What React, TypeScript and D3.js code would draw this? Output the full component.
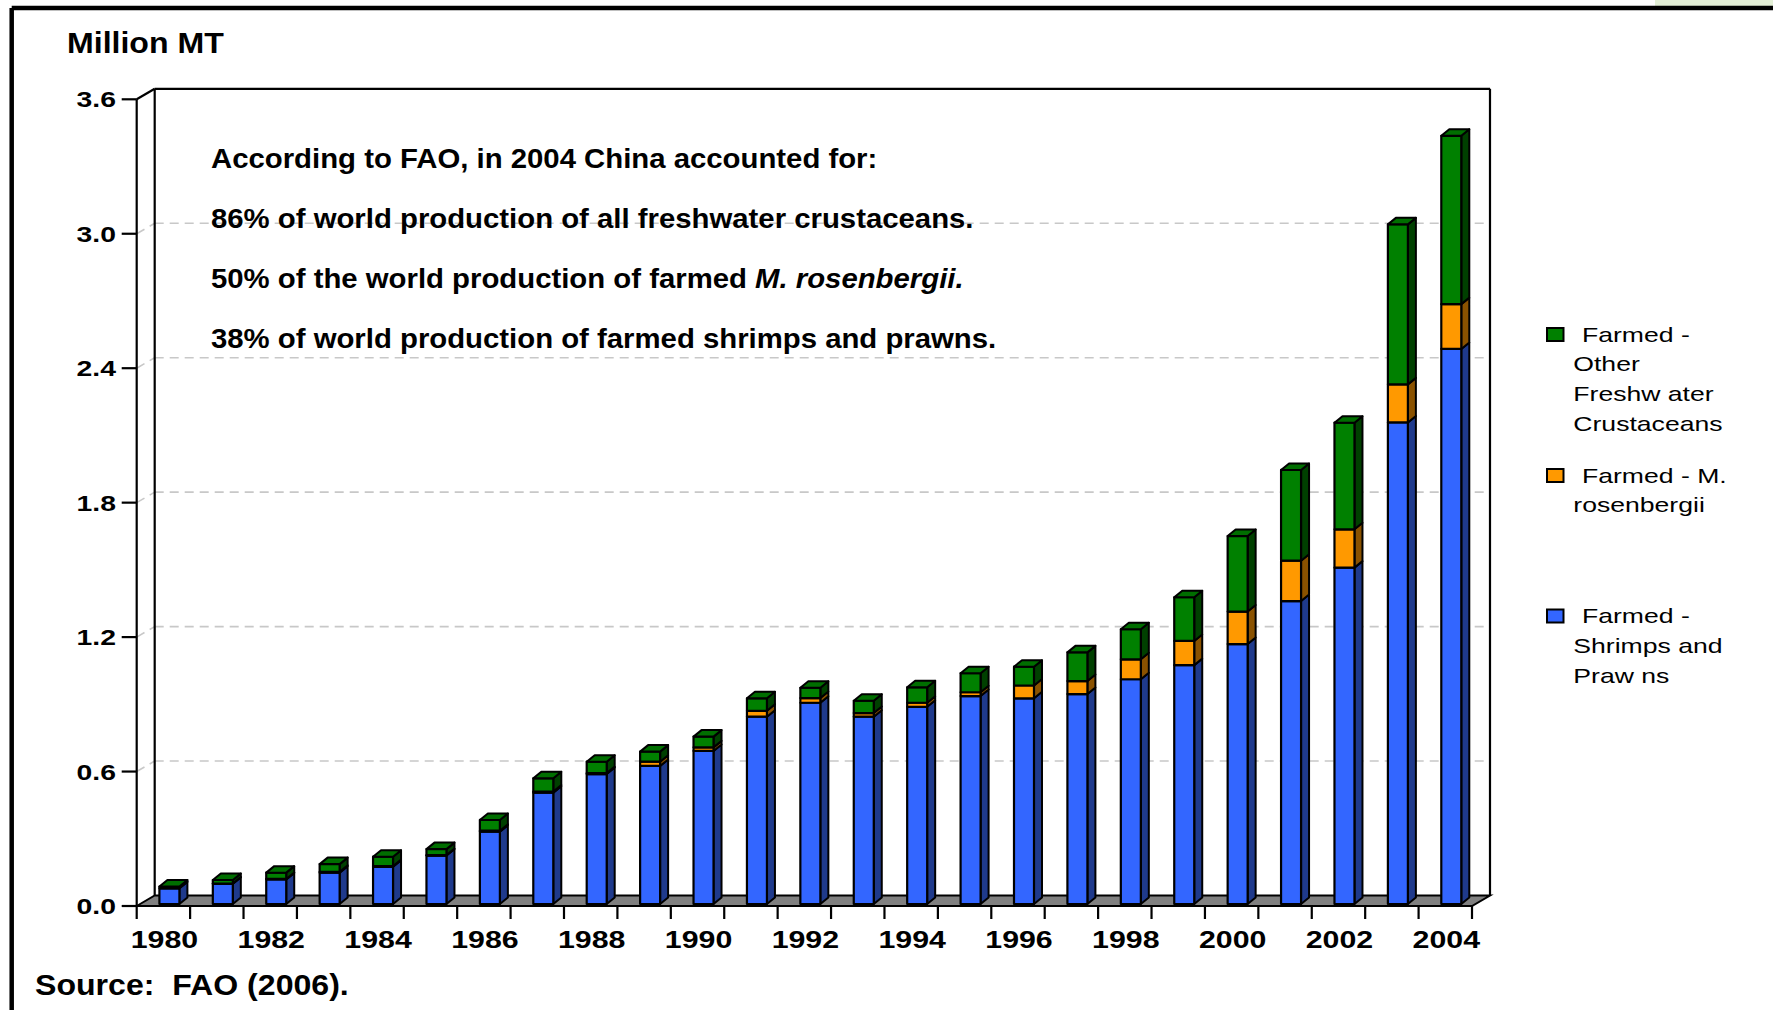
import React from 'react';
import * as d3 from 'd3';

const years = ['1980', '1981', '1982', '1983', '1984', '1985', '1986', '1987', '1988', '1989', '1990', '1991', '1992', '1993', '1994', '1995', '1996', '1997', '1998', '1999', '2000', '2001', '2002', '2003', '2004'];
const shrimpsPrawns = [0.070, 0.090, 0.110, 0.140, 0.166, 0.216, 0.323, 0.497, 0.580, 0.616, 0.683, 0.836, 0.898, 0.836, 0.880, 0.928, 0.918, 0.937, 1.003, 1.066, 1.160, 1.352, 1.501, 2.149, 2.477];
const rosenbergii = [0.000, 0.001, 0.002, 0.004, 0.003, 0.002, 0.004, 0.005, 0.004, 0.019, 0.016, 0.026, 0.021, 0.016, 0.018, 0.017, 0.057, 0.058, 0.089, 0.108, 0.145, 0.180, 0.171, 0.170, 0.200];
const otherCrustaceans = [0.008, 0.016, 0.028, 0.034, 0.042, 0.027, 0.048, 0.059, 0.051, 0.045, 0.048, 0.056, 0.046, 0.055, 0.069, 0.085, 0.084, 0.128, 0.134, 0.195, 0.337, 0.405, 0.476, 0.714, 0.751];
const yTickValues = [0, 0.6, 1.2, 1.8, 2.4, 3.0, 3.6];
const gridValues = [0.6, 1.2, 1.8, 2.4, 3.0];
const xLabelYears = ['1980', '1982', '1984', '1986', '1988', '1990', '1992', '1994', '1996', '1998', '2000', '2002', '2004'];

const seriesKeys = ['shrimps', 'rosen', 'other'];
const seriesColors: Record<string, { front: string; side: string; top: string }> = {
  shrimps: { front: '#3366FF', side: '#1F3A8C', top: '#2B55D6' },
  rosen: { front: '#FF9900', side: '#8A5200', top: '#D98200' },
  other: { front: '#008000', side: '#004000', top: '#006E00' },
};

const legendItems = [
  { key: 'other', lines: ['Farmed -', 'Other', 'Freshw ater', 'Crustaceans'], top: 328, base: 341.7 },
  { key: 'rosen', lines: ['Farmed - M.', 'rosenbergii'], top: 469, base: 482.7 },
  { key: 'shrimps', lines: ['Farmed -', 'Shrimps and', 'Praw ns'], top: 609.5, base: 623.3 },
];

const FONT = '"Liberation Sans", Arial, Helvetica, sans-serif';

export default function App() {
  const W = 1773;
  const H = 1010;
  const xLeft = 136.7;
  const xRight = 1472;
  const WDX = 18;
  const WDY = -10.5;
  const BX = 6;
  const BY = -2;
  const BW = 20;
  const DX = 8;
  const DY = -6.5;

  const x = d3.scaleBand<string>().domain(years).range([xLeft, xRight]).paddingInner(0).paddingOuter(0);
  const y = d3.scaleLinear().domain([0, 3.6]).range([906, 99.3]);

  const data = years.map((yr, i) => ({
    year: yr,
    shrimps: shrimpsPrawns[i],
    rosen: rosenbergii[i],
    other: otherCrustaceans[i],
  }));
  const stacked = d3.stack<any>().keys(seriesKeys)(data);

  const bw = x.bandwidth();
  const y0 = y(0);
  const yTop = y(3.6);

  const bars: React.ReactNode[] = [];
  years.forEach((yr, i) => {
    const bx = (x(yr) as number) + (bw - BW) / 2 + BX;
    stacked.forEach((layer, k) => {
      const d = layer[i];
      const key = layer.key;
      const c = seriesColors[key];
      const yb = y(d[0]) + BY;
      const yt = y(d[1]) + BY;
      const side = [
        [bx + BW, yb],
        [bx + BW + DX, yb + DY],
        [bx + BW + DX, yt + DY],
        [bx + BW, yt],
      ];
      bars.push(
        <g key={`${yr}-${key}`}>
          <polygon points={side.map((p) => p.join(',')).join(' ')} fill={c.side} stroke="#000" strokeWidth={2} strokeLinejoin="round" />
          <rect x={bx} y={yt} width={BW} height={Math.max(0, yb - yt)} fill={c.front} stroke="#000" strokeWidth={2.2} strokeLinejoin="round" />
        </g>
      );
      if (k === stacked.length - 1) {
        const top = [
          [bx, yt],
          [bx + DX, yt + DY],
          [bx + BW + DX, yt + DY],
          [bx + BW, yt],
        ];
        bars.push(
          <polygon key={`${yr}-top`} points={top.map((p) => p.join(',')).join(' ')} fill={c.top} stroke="#000" strokeWidth={2} strokeLinejoin="round" />
        );
      }
    });
  });

  const tickXs = years.map((yr) => x(yr) as number).concat([xRight]);

  return (
    <svg width={W} height={H} viewBox={`0 0 ${W} ${H}`} style={{ position: 'absolute', left: 0, top: 0, background: '#fff' }} fontFamily={FONT}>
      <rect x={0} y={0} width={W} height={H} fill="#fff" />
      <rect x={1655} y={0} width={118} height={6} fill="#E3EFD6" />
      {/* outer frame */}
      <line x1={11.7} y1={8} x2={W} y2={8} stroke="#000" strokeWidth={4.5} />
      <line x1={11.7} y1={8} x2={11.7} y2={H} stroke="#000" strokeWidth={4.5} />

      {/* title */}
      <text transform="translate(67,53) scale(1.07,1)" fontSize={30} fontWeight="bold" fill="#000">Million MT</text>

      {/* floor */}
      <polygon
        points={`${xLeft},${y0} ${xLeft + WDX},${y0 + WDY} ${xRight + WDX},${y0 + WDY} ${xRight},${y0}`}
        fill="#808080"
        stroke="#000"
        strokeWidth={2}
      />

      {/* gridlines */}
      {gridValues.map((v) => (
        <g key={`g${v}`} stroke="#C8C8C8" strokeWidth={1.6} strokeDasharray="9,6" fill="none">
          <line x1={xLeft} y1={y(v)} x2={xLeft + WDX} y2={y(v) + WDY} />
          <line x1={xLeft + WDX} y1={y(v) + WDY} x2={xRight + WDX} y2={y(v) + WDY} />
        </g>
      ))}

      {/* walls */}
      <g stroke="#000" strokeWidth={2.2} fill="none">
        <line x1={xLeft} y1={yTop} x2={xLeft} y2={y0} />
        <line x1={xLeft} y1={yTop} x2={xLeft + WDX} y2={yTop + WDY} />
        <line x1={xLeft + WDX} y1={yTop + WDY} x2={xRight + WDX} y2={yTop + WDY} />
        <line x1={xLeft + WDX} y1={yTop + WDY} x2={xLeft + WDX} y2={y0 + WDY} />
        <line x1={xRight + WDX} y1={yTop + WDY} x2={xRight + WDX} y2={y0 + WDY} />
      </g>

      {/* annotation */}
      <g fontSize={28} fontWeight="bold" fill="#000">
        <text transform="translate(211,168) scale(1.048,1)">According to FAO, in 2004 China accounted for:</text>
        <text transform="translate(211,228) scale(1.048,1)">86% of world production of all freshwater crustaceans.</text>
        <text transform="translate(211,288) scale(1.048,1)">
          50% of the world production of farmed <tspan fontStyle="italic">M. rosenbergii.</tspan>
        </text>
        <text transform="translate(211,348) scale(1.048,1)">38% of world production of farmed shrimps and prawns.</text>
      </g>

      {/* bars */}
      {bars}

      {/* y axis ticks and labels */}
      {yTickValues.map((v) => (
        <g key={`yt${v}`}>
          <line x1={121.7} y1={y(v)} x2={xLeft} y2={y(v)} stroke="#000" strokeWidth={2.2} />
          <text transform={`translate(116,${y(v) + 8}) scale(1.26,1)`} textAnchor="end" fontSize={22.5} fontWeight="bold" fill="#000">
            {v.toFixed(1)}
          </text>
        </g>
      ))}

      {/* x axis ticks */}
      {tickXs.map((tx, i) => (
        <line key={`xt${i}`} x1={tx} y1={y0} x2={tx} y2={y0 + 13} stroke="#000" strokeWidth={2.2} />
      ))}
      {xLabelYears.map((yr) => (
        <text
          key={`xl${yr}`}
          transform={`translate(${(x(yr) as number) + bw / 2 + 1},948) scale(1.29,1)`}
          textAnchor="middle"
          fontSize={23.5}
          fontWeight="bold"
          fill="#000"
        >
          {yr}
        </text>
      ))}

      {/* legend */}
      {legendItems.map((item) => (
        <g key={`lg${item.key}`}>
          <rect x={1547} y={item.top} width={16.5} height={13} fill={seriesColors[item.key].front} stroke="#000" strokeWidth={2} />
          {item.lines.map((ln, j) => (
            <text
              key={j}
              transform={`translate(${j === 0 ? 1582 : 1573.3},${item.base + j * 29.6}) scale(1.33,1)`}
              fontSize={20}
              fill="#000"
              style={{ whiteSpace: 'pre' }}
            >
              {ln}
            </text>
          ))}
        </g>
      ))}

      {/* source */}
      <text transform="translate(35,995) scale(1.07,1)" fontSize={30} fontWeight="bold" fill="#000" style={{ whiteSpace: 'pre' }}>
        {'Source:  FAO (2006).'}
      </text>
    </svg>
  );
}
